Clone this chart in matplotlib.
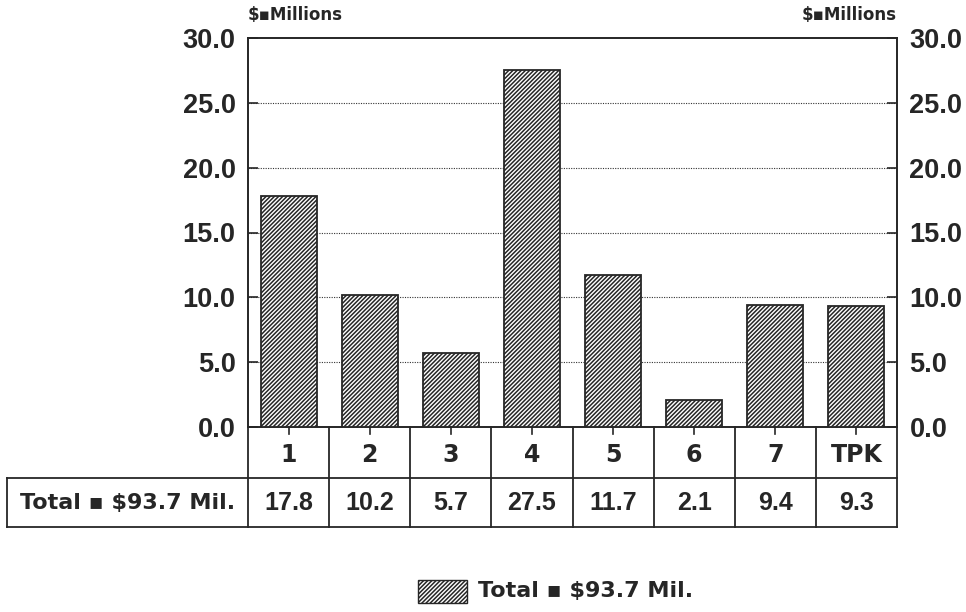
import matplotlib
matplotlib.use("Agg")
import matplotlib.pyplot as plt
from matplotlib.patches import Rectangle
import numpy as np

# Spending by district, $ millions
categories = ["1", "2", "3", "4", "5", "6", "7", "TPK"]
values = [17.8, 10.2, 5.7, 27.5, 11.7, 2.1, 9.4, 9.3]
series_label = "Total \u25aa $93.7 Mil."
unit_label = "$\u25aaMillions"
yticks = [0.0, 5.0, 10.0, 15.0, 20.0, 25.0, 30.0]

NARROW = ["Liberation Sans", "DejaVu Sans"]
WIDE = ["DejaVu Sans"]
plt.rcParams["font.family"] = NARROW
plt.rcParams["hatch.linewidth"] = 1.1
plt.rcParams["hatch.color"] = "#3a3a3a"
INK = "#262626"
HATCH = "////////"

W, H = 966, 612
fig = plt.figure(figsize=(W / 100, H / 100), dpi=100)

# main plot area (pixel box converted to figure fractions)
L, R, T, B = 248, 897, 38, 427
ax = fig.add_axes([L / W, 1 - B / H, (R - L) / W, (B - T) / H])
x = np.arange(len(categories))
ax.set_xlim(-0.5, len(categories) - 0.5)
ax.set_ylim(0, 30)

ax.bar(x, values, width=0.69, color="white", edgecolor=INK, linewidth=1.3,
       hatch=HATCH, zorder=3)

for s in ax.spines.values():
    s.set_color(INK)
    s.set_linewidth(1.4)

ax.set_yticks(yticks)
ax.set_yticklabels([f"{v:.1f}" for v in yticks])
ax.tick_params(axis="y", which="both", direction="in", length=7, width=1.2,
               color=INK, labelsize=19.5, pad=9, left=True, right=True,
               labelleft=True, labelright=True)
for lab in ax.get_yticklabels():
    lab.set_fontweight("bold")
    lab.set_color(INK)
ax.set_xticks([])
for yv in yticks[1:-1]:
    ax.axhline(yv, color="#333333", linestyle=(0, (1, 1.2)), linewidth=0.8,
               zorder=1)

ax.text(0.0, 1.035, unit_label, transform=ax.transAxes, ha="left",
        va="bottom", fontsize=12, fontweight="bold", color=INK, family=WIDE)
ax.text(1.0, 1.035, unit_label, transform=ax.transAxes, ha="right",
        va="bottom", fontsize=12, fontweight="bold", color=INK, family=WIDE)

# data table below the chart, sharing the column positions of the bars
TL, TB = 7, 527
ROW = 478
units_per_px = len(categories) / (R - L)
tax = fig.add_axes([TL / W, 1 - TB / H, (R - TL) / W, (TB - B) / H])
tax.set_xlim(-0.5 - (L - TL) * units_per_px, len(categories) - 0.5)
tax.set_ylim(TB, B)
tax.axis("off")

lw = 1.3
edges = np.arange(len(categories) + 1) - 0.5
for e in edges:
    tax.plot([e, e], [B, TB], color=INK, lw=lw, clip_on=False)
left_edge = tax.get_xlim()[0]
tax.plot([left_edge, edges[-1]], [ROW, ROW], color=INK, lw=lw, clip_on=False)
tax.plot([left_edge, edges[-1]], [TB, TB], color=INK, lw=lw, clip_on=False)
tax.plot([left_edge, left_edge], [ROW, TB], color=INK, lw=lw, clip_on=False)
for xi in x:
    tax.plot([xi, xi], [B, B + 7], color=INK, lw=1.2, clip_on=False)

for xi, cat, val in zip(x, categories, values):
    tax.text(xi, (B + ROW) / 2 + 3, cat, ha="center", va="center",
             fontsize=17, fontweight="bold", color=INK, family=WIDE)
    tax.text(xi, (ROW + TB) / 2 + 1, f"{val:.1f}", ha="center", va="center",
             fontsize=18, fontweight="bold", color=INK)
tax.text((left_edge + edges[0]) / 2, (ROW + TB) / 2 + 1, series_label,
         ha="center", va="center", fontsize=16, fontweight="bold", color=INK,
         family=WIDE)

# legend
fig.patches.append(Rectangle((418 / W, 1 - 603 / H), 49 / W, 23 / H,
                             transform=fig.transFigure, facecolor="white",
                             edgecolor=INK, hatch=HATCH, linewidth=1.0))
fig.text(478 / W, 1 - 591 / H, series_label, ha="left", va="center",
         fontsize=16, fontweight="bold", color=INK, family=WIDE)

fig.savefig("out.png", dpi=100, facecolor="white")
